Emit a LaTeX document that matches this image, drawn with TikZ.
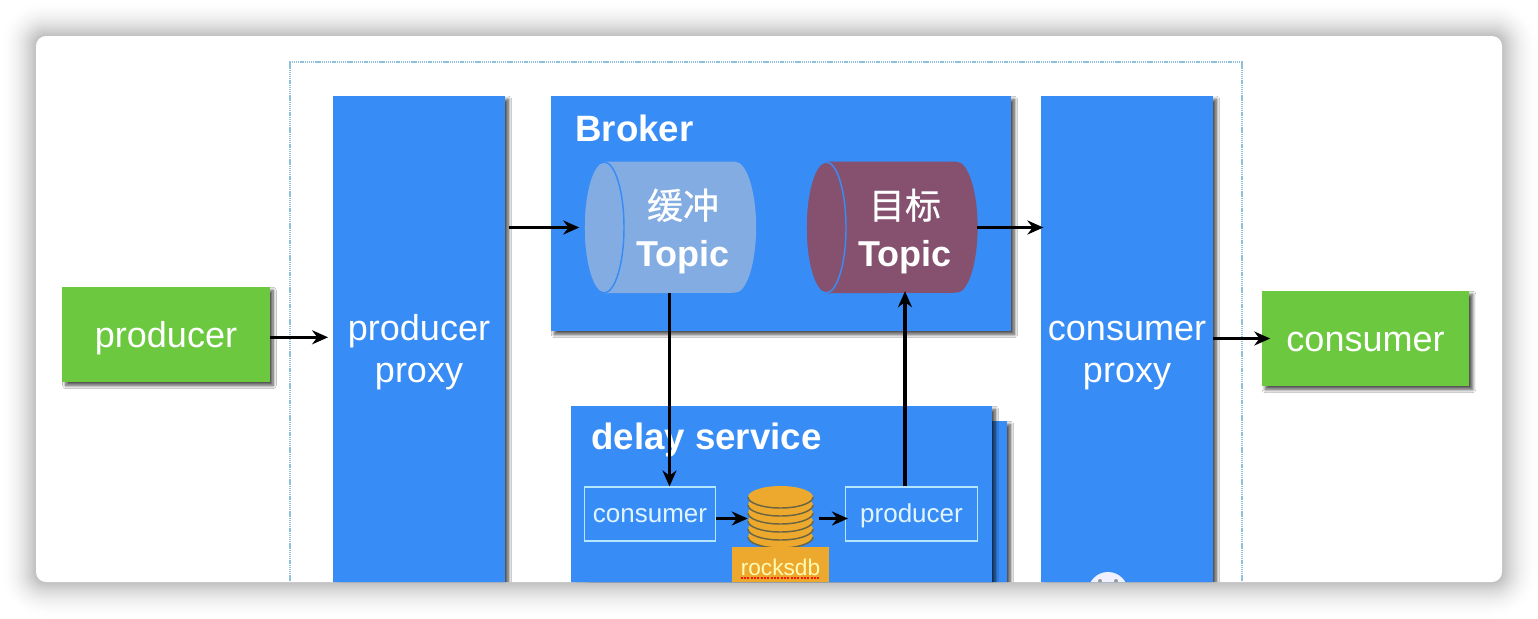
\documentclass[tikz,border=0pt]{standalone}
\usepackage{fontspec}
\setmainfont{Liberation Sans}
\newfontfamily\cjk[FakeBold=0.5]{Noto Sans CJK SC}
\usetikzlibrary{arrows.meta, positioning, shapes.geometric, shadows.blur}
\definecolor{boxblue}{HTML}{378CF6}
\definecolor{boxgreen}{HTML}{6CC93F}
\definecolor{rockorange}{HTML}{EDA92E}
\definecolor{rockline}{HTML}{6B6542}
\definecolor{bufferblue}{HTML}{83ADE2}
\definecolor{targetred}{HTML}{85516F}
\definecolor{paleline}{HTML}{B5E6FF}
\definecolor{framecolor}{HTML}{8FC0DA}

\begin{document}
\begin{tikzpicture}[
    x=0.75pt, y=-0.75pt, >={Stealth[length=12pt,width=10.5pt]},
    flow/.style={->, line width=2.3pt, black},
    softshadow/.style={blur shadow={shadow xshift=2.6pt, shadow yshift=-2.6pt,
                       shadow blur radius=2.4pt, shadow blur steps=8, shadow opacity=70}},
    block/.style={fill=boxblue, softshadow, inner sep=0pt, text=white,
                  align=center, font=\fontsize{27}{31.5}\selectfont},
    greenbox/.style={fill=boxgreen, softshadow, inner sep=0pt, text=white,
                     minimum width=155.5pt, minimum height=71.25pt,
                     text height=20pt, text depth=1.2pt,
                     font=\fontsize{27}{31.5}\selectfont},
    title/.style={anchor=west, inner sep=0pt, text=white,
                  font=\bfseries\fontsize{27.5}{31.5}\selectfont},
    topic/.style={inner sep=0pt, minimum width=129pt, minimum height=98.25pt},
    topicend/.style={ellipse, draw=boxblue, line width=1.1pt, minimum width=30pt,
                     minimum height=98.25pt, inner sep=0pt},
    topictext/.style={inner sep=0pt, text=white, align=center,
                      font=\bfseries\fontsize{27}{36}\selectfont},
    worker/.style={draw=paleline, line width=.8pt, inner sep=0pt, text=paleline!40!white,
                   minimum width=98.5pt, minimum height=40.5pt,
                   text height=14pt, text depth=2pt,
                   font=\fontsize{19.5}{24}\selectfont}
  ]
  \useasboundingbox (0,0) rectangle (1538,618);

  % Card shadow
  \foreach \r in {36,35,...,1} {
    \pgfmathsetmacro\shade{24*((37-\r)/36)^2}
    \fill[black!\shade, rounded corners=7.5pt+0.75pt*\r]
      (36-\r,36-\r) rectangle (1502+\r,582+\r);
  }
  \fill[white, rounded corners=7.5pt] (36,36) rectangle (1502,582);

  \begin{scope}
    \clip[rounded corners=7.5pt] (36,36) rectangle (1502,582);

    % Outer frame
    \node[draw=framecolor, line width=.8pt, dash pattern=on 1pt off .6pt, inner sep=0pt,
          minimum width=714pt, minimum height=433.5pt] (frame) at (766,351) {};

    % Proxies
    \node[block, minimum width=129pt, minimum height=385pt] (pproxy) at (419,352.6)
      {producer\strut\\proxy\strut};
    \node[block, minimum width=129pt, minimum height=385pt] (cproxy) at (1127,352.6)
      {consumer\strut\\proxy\strut};

    % Clients
    \node[greenbox] (producer) at (166,334.5) {producer};
    \node[greenbox] (consumer) at (1365.5,338.5) {consumer};

    % Broker
    \node[block, minimum width=345pt, minimum height=176.25pt] (broker) at (781,213.5) {};
    \node[title] (brokertitle) at (575,128) {Broker};
    \node[topic] (buffer) at (669.5,227.5) {};
    \node[topic] (target) at (891,227.5) {};
    \foreach \name/\col in {buffer/bufferblue, target/targetred} {
      \fill[\col] ([xshift=15pt]\name.north west) -- ([xshift=-15.5pt]\name.north east)
        arc[start angle=-90, end angle=90, x radius=21, y radius=65.5]
        -- ([xshift=15pt]\name.south west) -- cycle;
    }
    \node[topicend, fill=bufferblue] (bufferend) at (604,227.5) {};
    \node[topicend, fill=targetred] (targetend) at (826,227.5) {};
    \node[topictext] (buffertext) at (683,231.5) {{\cjk\mdseries 缓冲}\\Topic};
    \node[topictext] (targettext) at (905,231.5) {{\cjk\mdseries 目标}\\Topic};

    % Delay service
    \node[block, minimum width=315.75pt, minimum height=175.5pt] (delayback) at (796.5,538) {};
    \node[block, minimum width=315.75pt, minimum height=175.5pt] (delay) at (781.5,523) {};
    \node[title] (delaytitle) at (591,440) {delay service};
    \node[worker] (dconsumer) at (650,514) {consumer};
    \node[worker] (dproducer) at (911.5,514) {producer};

    % Rocksdb
    \foreach \y in {537,529,521,513,505,497} {
      \fill[rockorange] (780.5,\y) ellipse[x radius=32.5, y radius=11];
      \draw[rockline, line width=1.1pt]
        (748,\y) arc[start angle=180, end angle=0, x radius=32.5, y radius=11];
    }
    \node[inner sep=0pt, minimum width=48.75pt, minimum height=45pt] (rocks) at (780.5,518.5) {};
    \node[fill=rockorange, inner sep=0pt, minimum width=72.75pt, minimum height=45pt] (rocksdb) at (780.5,577) {};
    \node[inner sep=0pt, text=yellow!30!white, font=\fontsize{17}{20}\selectfont]
      (rockslabel) at (780.5,567) {rocksdb};
    \draw[red!85!orange, line width=1.2pt, dash pattern=on 1.5pt off 1pt]
      ([yshift=-2pt]rockslabel.south west) -- ([yshift=-2pt]rockslabel.south east);

    % Watermark
    \node[circle, fill=blue!6!white, minimum size=30pt, inner sep=0pt] (mark) at (1108,592) {};
    \fill[black!40] (1100,581) circle[radius=2] (1116,581) circle[radius=2];

    % Connections
    \draw[flow] ([yshift=-2.1pt]producer.east) -- ([xshift=-3.5pt,yshift=-2.1pt]pproxy.west |- producer.east);
    \draw[flow] ([xshift=3pt]pproxy.east |- buffer) -- ([xshift=-3pt]bufferend.west);
    \draw[flow] (buffer.south) -- (buffer.south |- dconsumer.north);
    \draw[flow] (dproducer.north -| targettext) -- ([yshift=1.5pt]target.south -| targettext);
    \draw[flow] (target.east |- target) -- ([xshift=2pt]cproxy.west |- target);
    \draw[flow] (consumer.west -| cproxy.east) -- ([xshift=6.5pt]consumer.west);
    \draw[flow] (dconsumer.east |- rocks.west) -- (rocks.west);
    \draw[flow] ([xshift=4pt]rocks.east) -- ([xshift=2pt]dproducer.west |- rocks.east);
  \end{scope}
\end{tikzpicture}
\end{document}
